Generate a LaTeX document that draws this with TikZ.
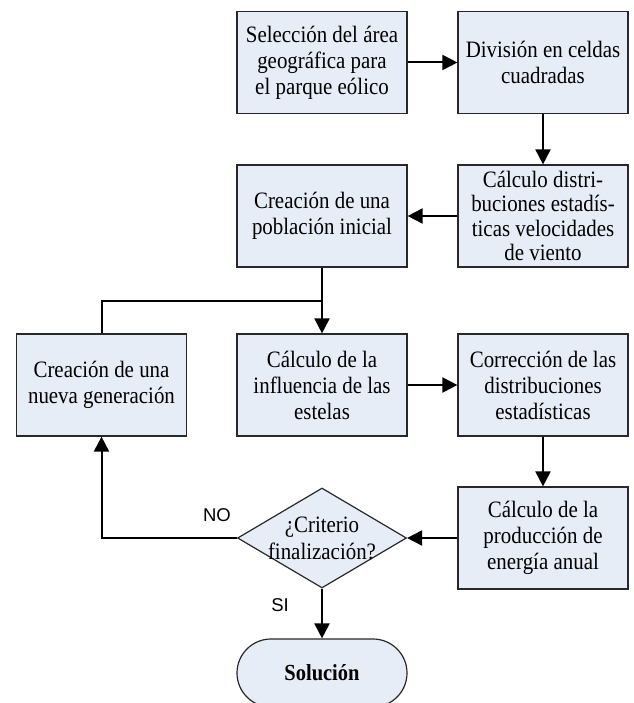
\documentclass[tikz,border=0pt]{standalone}
\usepackage{fontspec}
\setmainfont[FakeStretch=0.89]{Liberation Serif}
\newfontfamily\labelfont{Liberation Sans}
\usetikzlibrary{shapes.geometric,arrows.meta}
\definecolor{boxfill}{RGB}{231,237,247}
\definecolor{boxline}{RGB}{40,40,40}
\begin{document}
\begin{tikzpicture}[x=1pt,y=-1pt,
  box/.style={draw=boxline, line width=1.2pt, fill=boxfill, minimum width=170pt, minimum height=102pt,
    inner sep=0pt, align=center, font=\fontsize{23.5}{26}\selectfont},
  dia/.style={draw=boxline, line width=1.2pt, fill=boxfill, diamond, minimum width=169pt, minimum height=100pt, inner sep=0pt},
  term/.style={draw=boxline, line width=1.2pt, fill=boxfill, rounded corners=34pt, minimum width=170pt, minimum height=68pt,
    inner sep=0pt, font=\fontsize{23}{26}\selectfont\bfseries},
  conn/.style={line width=2pt, draw=black},
  arr/.style={conn, -{Triangle[length=15pt,width=15pt]}},
  lbl/.style={font=\labelfont\fontsize{18.5}{20}\selectfont, inner sep=0pt}
]
\useasboundingbox (0,0) rectangle (633,703);
\clip (0,0) rectangle (633,703);
\fill[white] (0,0) rectangle (633,703);

\node[box] (b1) at (322,62.5) {Selección del área\\geográfica para\\el parque eólico};
\node[box] (b2) at (543,62.5) {División en celdas\\cuadradas};
\node[box, font=\fontsize{23.5}{24.5}\selectfont] (b3) at (543,216) {Cálculo distri-\\buciones estadís-\\ticas velocidades\\de viento};
\node[box] (b4) at (322,216) {Creación de una\\población inicial};
\node[box] (b5) at (101.5,385) {Creación de una\\nueva generación};
\node[box] (b6) at (322,385) {Cálculo de la\\influencia de las\\estelas};
\node[box] (b7) at (543,385) {Corrección de las\\distribuciones\\estadísticas};
\node[box] (b8) at (543,538) {Cálculo de la\\producción de\\energía anual};
\node[dia] (d) at (322,538) {};
\node[align=center, inner sep=0pt, font=\fontsize{23.5}{27}\selectfont] (dt) at (d.center) {¿Criterio\\finalización?};
\node[term] (t) at (322,673) {Solución};

\coordinate (j) at (322,301);

\draw[arr] (b1.east) -- (b2.west);
\draw[arr] (b2.south) -- (b3.north);
\draw[arr] (b3.west) -- (b4.east);
\draw[arr] (b4.south) -- (b6.north);
\draw[conn] (b5.north) |- (j);
\draw[arr] (b6.east) -- (b7.west);
\draw[arr] (b7.south) -- (b8.north);
\draw[arr] (b8.west) -- (d.east);
\draw[arr] (d.west) -| (b5.south);
\draw[arr] (d.south) -- (t.north);

\node[lbl] (no) at (217,515) {NO};
\node[lbl] (si) at (280,605) {SI};
\end{tikzpicture}
\end{document}
